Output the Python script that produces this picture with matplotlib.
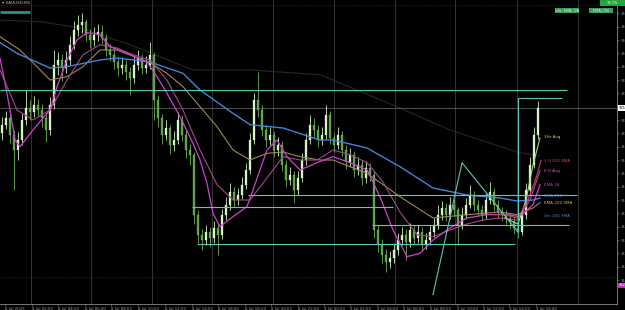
import matplotlib
matplotlib.use("Agg")
import matplotlib.pyplot as plt
from matplotlib.patches import Rectangle
import numpy as np

# ---------------- data ----------------
first_open = 3350.0
closes = [3351.3, 3352.3, 3349.8, 3347.5, 3349.0, 3352.0, 3353.8, 3353.2, 3354.3, 3353.5,
          3352.3, 3350.5, 3354.3, 3360.3, 3361.0, 3359.8, 3361.0, 3363.3, 3365.5, 3366.3,
          3366.7, 3364.8, 3364.0, 3364.8, 3365.2, 3364.3, 3362.5, 3361.8, 3360.7, 3359.8,
          3360.3, 3359.2, 3358.3, 3360.3, 3361.3, 3359.8, 3360.3, 3361.8, 3355.0, 3352.3,
          3349.8, 3350.8, 3348.3, 3349.0, 3352.0, 3349.8, 3347.5, 3346.8, 3337.8, 3334.8,
          3334.0, 3335.2, 3334.3, 3335.8, 3334.8, 3337.8, 3339.3, 3341.2, 3340.0, 3340.8,
          3342.3, 3344.5, 3349.0, 3355.0, 3353.5, 3350.5, 3349.0, 3349.8, 3347.5, 3348.3,
          3345.3, 3343.0, 3343.8, 3341.5, 3343.3, 3346.0, 3349.0, 3351.3, 3350.5, 3349.0,
          3349.8, 3352.8, 3349.3, 3348.3, 3349.8, 3347.5, 3345.7, 3346.8, 3344.5, 3345.3,
          3343.3, 3344.8, 3343.8, 3335.5, 3333.3, 3331.8, 3330.7, 3331.3, 3332.5, 3334.0,
          3334.8, 3333.7, 3335.5, 3334.3, 3335.2, 3333.3, 3334.0, 3335.2, 3336.3, 3337.8,
          3338.8, 3337.8, 3339.3, 3338.5, 3336.3, 3337.8, 3339.3, 3340.8, 3339.3, 3338.5,
          3337.8, 3340.0, 3341.2, 3339.3, 3338.2, 3337.8, 3337.3, 3336.7, 3335.8, 3335.2,
          3337.8, 3341.5, 3345.3, 3349.8, 3353.8]
highs = [3352.5, 3353.4, 3353.0, 3350.5, 3350.2, 3353.1, 3356.5, 3355.0, 3355.6, 3355.2,
         3354.4, 3353.0, 3355.5, 3362.5, 3362.2, 3361.9, 3362.3, 3364.6, 3366.8, 3367.8,
         3368.0, 3367.2, 3365.6, 3365.9, 3366.4, 3366.2, 3364.9, 3363.4, 3362.6, 3361.5,
         3361.4, 3361.0, 3360.0, 3361.5, 3362.5, 3361.9, 3361.6, 3363.7, 3362.2, 3355.8,
         3352.9, 3352.0, 3351.2, 3350.3, 3353.2, 3352.7, 3350.6, 3348.4, 3347.2, 3338.5,
         3335.6, 3336.3, 3336.0, 3336.9, 3336.4, 3338.6, 3340.4, 3342.6, 3341.9, 3341.8,
         3343.4, 3345.6, 3350.1, 3356.1, 3359.2, 3354.2, 3351.3, 3351.0, 3350.4, 3349.4,
         3348.9, 3346.0, 3345.0, 3344.4, 3344.4, 3347.1, 3350.0, 3352.8, 3352.3, 3351.2,
         3351.0, 3354.3, 3353.4, 3350.1, 3350.9, 3350.4, 3348.2, 3347.8, 3347.4, 3346.5,
         3346.0, 3345.9, 3345.6, 3344.3, 3336.2, 3334.1, 3332.6, 3332.4, 3333.6, 3335.1,
         3336.0, 3335.6, 3336.6, 3336.2, 3336.3, 3335.9, 3335.1, 3336.2, 3337.3, 3339.3,
         3339.9, 3339.6, 3340.4, 3340.1, 3339.0, 3338.9, 3340.3, 3342.3, 3341.4, 3340.0,
         3339.3, 3341.0, 3342.7, 3341.8, 3340.0, 3339.0, 3338.5, 3338.0, 3337.4, 3336.5,
         3338.7, 3342.6, 3346.4, 3350.9, 3354.9]
lows = [3349.0, 3350.6, 3348.6, 3341.5, 3346.0, 3348.2, 3351.2, 3352.0, 3352.4, 3352.6,
        3350.9, 3348.7, 3349.8, 3353.6, 3358.8, 3357.8, 3359.0, 3360.2, 3362.6, 3364.6,
        3365.0, 3363.9, 3362.8, 3363.1, 3363.9, 3363.4, 3361.6, 3360.8, 3359.6, 3358.6,
        3358.9, 3358.0, 3355.8, 3357.6, 3359.5, 3358.9, 3359.0, 3359.7, 3352.0, 3350.9,
        3348.4, 3349.0, 3346.9, 3347.3, 3348.4, 3348.8, 3346.3, 3345.3, 3336.4, 3333.6,
        3332.5, 3333.2, 3333.0, 3333.6, 3331.8, 3334.1, 3337.0, 3338.5, 3339.0, 3339.3,
        3340.1, 3341.6, 3343.9, 3348.4, 3352.4, 3349.6, 3348.0, 3348.2, 3346.5, 3346.6,
        3344.3, 3342.0, 3342.2, 3339.6, 3340.8, 3342.7, 3345.3, 3348.4, 3349.5, 3348.0,
        3348.2, 3349.2, 3348.4, 3347.2, 3347.6, 3346.6, 3344.7, 3345.0, 3343.4, 3343.8,
        3342.3, 3342.6, 3342.8, 3334.3, 3332.2, 3330.6, 3329.2, 3329.8, 3330.6, 3331.8,
        3333.2, 3331.0, 3333.0, 3333.4, 3333.6, 3332.3, 3332.6, 3333.3, 3334.5, 3335.7,
        3337.0, 3336.9, 3337.1, 3337.6, 3333.3, 3335.6, 3337.1, 3338.8, 3338.4, 3337.6,
        3336.8, 3337.1, 3339.4, 3338.4, 3337.3, 3336.9, 3336.4, 3335.8, 3334.9, 3334.3,
        3334.8, 3337.2, 3340.9, 3344.8, 3349.2]

# moving averages (bar index, price)
ema200_x = [-0.5, 3.75, 12, 16.25, 24.5, 28.75, 37, 45.25, 49.5, 57.75, 62, 70.25, 79.5,
            82.75, 91.25, 99.5, 107.75, 116.25, 124.5, 128.75, 132.75, 134.5]
ema200_y = [3363.6, 3362.0, 3359.8, 3360.0, 3361.0, 3361.3, 3360.7, 3359.0, 3356.5, 3353.0,
            3351.3, 3350.8, 3349.0, 3349.0, 3347.8, 3345.0, 3341.8, 3340.75, 3340.3, 3339.85,
            3340.0, 3340.3]
ema200sma_x = [-0.5, 4.5, 7.75, 12, 16.25, 20.25, 24.5, 28.75, 37, 41.25, 45.25, 49.5, 53.75,
               57.75, 62, 66.25, 70.25, 74.5, 79.5, 82.75, 91.25, 99.5, 107.75, 116.25, 124.5,
               128.75, 132.75, 134.5]
ema200sma_y = [3364.5, 3362.5, 3360.6, 3358.0, 3358.5, 3360.0, 3362.5, 3362.5, 3360.6, 3359.0,
               3357.0, 3354.0, 3351.0, 3347.5, 3346.0, 3347.0, 3347.2, 3346.5, 3346.0, 3346.0,
               3344.0, 3340.5, 3337.3, 3337.8, 3338.2, 3337.8, 3338.8, 3339.6]
ema38_x = [-0.5, 0.75, 2, 3.25, 4.5, 7.75, 12, 13.75, 16.25, 18.75, 21.25, 24.5, 27, 31.25,
           36.25, 38.75, 41.25, 44.5, 47.75, 49.5, 51.25, 52.75, 54.5, 57.75, 61.25, 62.75,
           64.5, 66.25, 68.75, 71.25, 74.5, 78.75, 82.75, 87, 91.25, 94.5, 97.75, 101.25,
           104.5, 107.75, 112, 116.25, 121.25, 126.25, 129.5, 132.75, 134.5]
ema38_y = [3361.3, 3357.6, 3353.5, 3349.0, 3348.0, 3350.5, 3353.5, 3357.0, 3361.0, 3364.0,
           3365.1, 3364.8, 3363.0, 3362.0, 3360.7, 3358.5, 3356.0, 3352.5, 3348.5, 3346.0,
           3342.5, 3338.0, 3336.0, 3337.5, 3339.0, 3341.5, 3344.5, 3347.5, 3349.0, 3346.5,
           3344.5, 3345.6, 3346.5, 3345.6, 3344.5, 3340.5, 3335.5, 3331.5, 3332.0, 3334.0,
           3335.8, 3337.3, 3337.8, 3337.8, 3337.5, 3339.3, 3342.3]
avg8h_x = [-0.5, 3.75, 7.75, 12, 16.25, 20.25, 24.5, 28.75, 32.75, 37, 41.25, 45.25, 49.5,
           53.75, 57.75, 62, 66.25, 70.25, 74.5, 78.75, 82.75, 87, 91.25, 95.25, 99.5,
           103.75, 107.75, 112, 116.25, 120.25, 124.5, 128.75, 132, 134.5]
avg8h_y = [3359.5, 3353.5, 3352.0, 3353.5, 3358.0, 3361.8, 3363.3, 3362.8, 3361.8, 3361.0,
           3358.0, 3353.5, 3347.5, 3342.3, 3340.0, 3340.0, 3343.3, 3346.5, 3346.0, 3346.0,
           3347.5, 3346.8, 3345.6, 3342.7, 3338.2, 3334.8, 3334.5, 3335.5, 3336.4, 3337.0,
           3337.3, 3337.0, 3340.0, 3344.4]
long_x = [-0.5, 10.25, 19.5, 32, 47.75, 62, 79.5, 99.5, 112, 128.75, 134.5]
long_y = [3367.0, 3366.7, 3365.8, 3363.3, 3359.5, 3359.5, 3358.8, 3353.8, 3350.5, 3347.2, 3346.6]
avg3h_x = [125.75, 129, 131, 132.75, 134.5]
avg3h_y = [3337.3, 3336.4, 3340.0, 3345.25, 3349.3]
sma1h_x = [124.5, 129, 131.5, 133.5, 134.75]
sma1h_y = [3337.9, 3337.3, 3340.0, 3343.3, 3345.9]

# drawn horizontal levels: (price, start bar, end bar)
level_price = [3356.5, 3355.3, 3340.8, 3339.0, 3333.4, 3336.3, 3368.2]
level_start = [-0.5, 129, 61.5, 47.5, 48.75, 92.5, -0.5]
level_end = [141.25, 140, 143.75, 97.75, 128.25, 141.75, 7.0]
# vertical drawn line and zigzag
vline_bar = 129
vline_lo, vline_hi = 3335.2, 3355.3
zig_x = [107.75, 115, 129]
zig_y = [3325.8, 3345.6, 3335.2]

# labels
ma_labels = ["3Hr Avg", "1 H 200 SMA", "8 H Avg", "EMA 38", "EMA 200", "EMA 200 SMA", "3m 200 SMA"]
ma_label_price = [3349.45, 3345.85, 3344.35, 3342.25, 3340.6, 3339.55, 3337.6]
ma_label_color = ["#c8d070", "#e04070", "#d050d0", "#c040c0", "#4a8ad0", "#e8b040", "#5a8ab0"]

# price scale (3354 is hidden behind the current-price marker)
price_ticks = [3328, 3330, 3332, 3334, 3336, 3338, 3340, 3342, 3344, 3346, 3348, 3350,
               3352, 3356, 3358, 3360, 3362, 3364, 3366, 3368]
date_ticks = [0.75, 7.5, 14, 20.75, 27.25, 34, 40.75, 47.5, 54, 60.75, 67.25, 74, 80.5, 87,
              93.75, 100.25, 107, 113.75, 120.25, 126.75, 133.5]
date_labels = ["8 Jul 2025", "8 Jul 02:00", "8 Jul 04:00", "8 Jul 06:00", "8 Jul 08:00",
               "8 Jul 10:00", "8 Jul 12:00", "8 Jul 14:00", "8 Jul 16:00", "8 Jul 18:00",
               "8 Jul 20:00", "8 Jul 22:00", "9 Jul 00:00", "9 Jul 02:00", "9 Jul 04:00",
               "9 Jul 06:00", "9 Jul 08:00", "9 Jul 10:00", "9 Jul 12:00", "9 Jul 14:00",
               "9 Jul 16:00"]
grid_bars = [7.25, 22.25, 37.5, 52.5, 67.75, 83, 98.25, 113.25, 128.75, 144]

# ---------------- figure ----------------
W, H = 625, 310
fig = plt.figure(figsize=(W / 100, H / 100), dpi=100, facecolor="black")
ax = fig.add_axes([0, 6 / H, 617 / W, 304 / H])
ax.set_facecolor("black")
ax.set_xlim(-0.5, 153.75)
ax.set_ylim(3324.4, 3370.0)

for s in ["top", "left"]:
    ax.spines[s].set_visible(False)
for s in ["right", "bottom"]:
    ax.spines[s].set_color("#8a8a8a")
    ax.spines[s].set_linewidth(0.6)

for g in grid_bars:
    ax.axvline(g, color="#3c3c3c", lw=0.6, zorder=0)
ax.axhline(3369.25, color="#3a3a3a", lw=0.5, ls=":", zorder=0)
ax.axhline(3328.45, color="#3a3a3a", lw=0.5, ls=":", zorder=0)

# long faint MA
ax.plot(long_x, long_y, color="#262626", lw=0.8, zorder=1)

# candles
c = np.array(closes)
o = np.array([first_open] + closes[:-1])
hi = np.array(highs)
lo = np.array(lows)
idx = np.arange(len(c))
up = c >= o
wick_col = np.where(up, "#cfeec0", "#6fae5a")
ax.vlines(idx, lo, hi, colors=wick_col, lw=0.6, zorder=3)
body_bot = np.minimum(o, c)
body_h = np.maximum(np.abs(c - o), 0.1)
ax.bar(idx[up], body_h[up], bottom=body_bot[up], width=0.65, color="#d6f2c6",
       edgecolor="#e6ffd8", lw=0.2, zorder=4)
ax.bar(idx[~up], body_h[~up], bottom=body_bot[~up], width=0.65, color="#5c9e4a",
       edgecolor="#8cc878", lw=0.2, zorder=4)

# MAs
ax.plot(ema200sma_x, ema200sma_y, color="#a08a55", lw=0.8, zorder=5)
ax.plot(ema200_x, ema200_y, color="#3f86d6", lw=1.0, zorder=5)
ax.plot(avg8h_x, avg8h_y, color="#a04a8a", lw=0.8, zorder=5)
ax.plot(ema38_x, ema38_y, color="#d040d0", lw=0.9, zorder=6)
ax.plot(avg3h_x, avg3h_y, color="#a8d878", lw=0.8, zorder=6)
ax.plot(sma1h_x, sma1h_y, color="#d03a6a", lw=0.8, zorder=6)

# drawn objects
teal = "#5cc8b8"
for p, s0, s1 in zip(level_price, level_start, level_end):
    lw = 2.0 if s1 < 10 else 0.8
    col = "#2f8f80" if s1 < 10 else teal
    ax.hlines(p, s0, s1, colors=col, lw=lw, zorder=7)
ax.vlines(vline_bar, vline_lo, vline_hi, colors=teal, lw=0.8, zorder=7)
ax.plot(zig_x, zig_y, color=teal, lw=0.8, zorder=7)

# current price line
ax.axhline(closes[-1], color="#707070", lw=0.5, zorder=2)

# MA labels
for t, p, col in zip(ma_labels, ma_label_price, ma_label_color):
    ax.text(135.5, p, t, color=col, fontsize=3, va="center", ha="left", zorder=8)

# axes ticks (price scale labels run off the right edge, as in the source)
ax.yaxis.tick_right()
ax.set_yticks(price_ticks)
ax.set_yticklabels([f"{v:.1f}" for v in price_ticks])
ax.tick_params(axis="y", colors="#a0a0a0", labelsize=2.6, length=1.5, width=0.4, pad=1)
ax.set_xticks(date_ticks)
ax.set_xticklabels(date_labels, ha="left")
ax.tick_params(axis="x", colors="#a0a0a0", labelsize=2.8, length=1.5, width=0.4, pad=0.5)

ytr = ax.get_yaxis_transform()
ax.text(1.003, closes[-1], f"{closes[-1]:.1f}", transform=ytr, fontsize=2.6, color="black",
        va="center", ha="left", clip_on=False, zorder=9,
        bbox=dict(boxstyle="square,pad=0.15", fc="white", ec="none"))
ax.text(1.003, 3327.2, "3327.2", transform=ytr, fontsize=2.6, color="white",
        va="center", ha="left", clip_on=False, zorder=9,
        bbox=dict(boxstyle="square,pad=0.15", fc="#c030c0", ec="none"))


def fig_box(x0, y0, x1, y1, fc, text, tc):
    fig.patches.append(Rectangle((x0 / W, 1 - y1 / H), (x1 - x0) / W, (y1 - y0) / H,
                                 transform=fig.transFigure, facecolor=fc, edgecolor="none",
                                 zorder=10))
    fig.text((x0 + x1) / 2 / W, 1 - (y0 + y1) / 2 / H, text, color=tc, fontsize=2.6,
             ha="center", va="center", zorder=11)


fig_box(555, 8, 579, 13, "#3f9a62", "Ichi. EMA: ON", "#d8f0d8")
fig_box(589, 8, 613, 13, "#3f9a62", "EMA: ON", "#d8f0d8")
fig_box(600, 0, 625, 6, "#22a83c", "38.7%", "#e8ffe8")

fig.text(2 / W, 1 - 2.5 / H, "\u25be XAUUSD,M5", color="#c0c0c0", fontsize=3,
         ha="left", va="center")

fig.savefig("out.png", dpi=100, facecolor="black")
